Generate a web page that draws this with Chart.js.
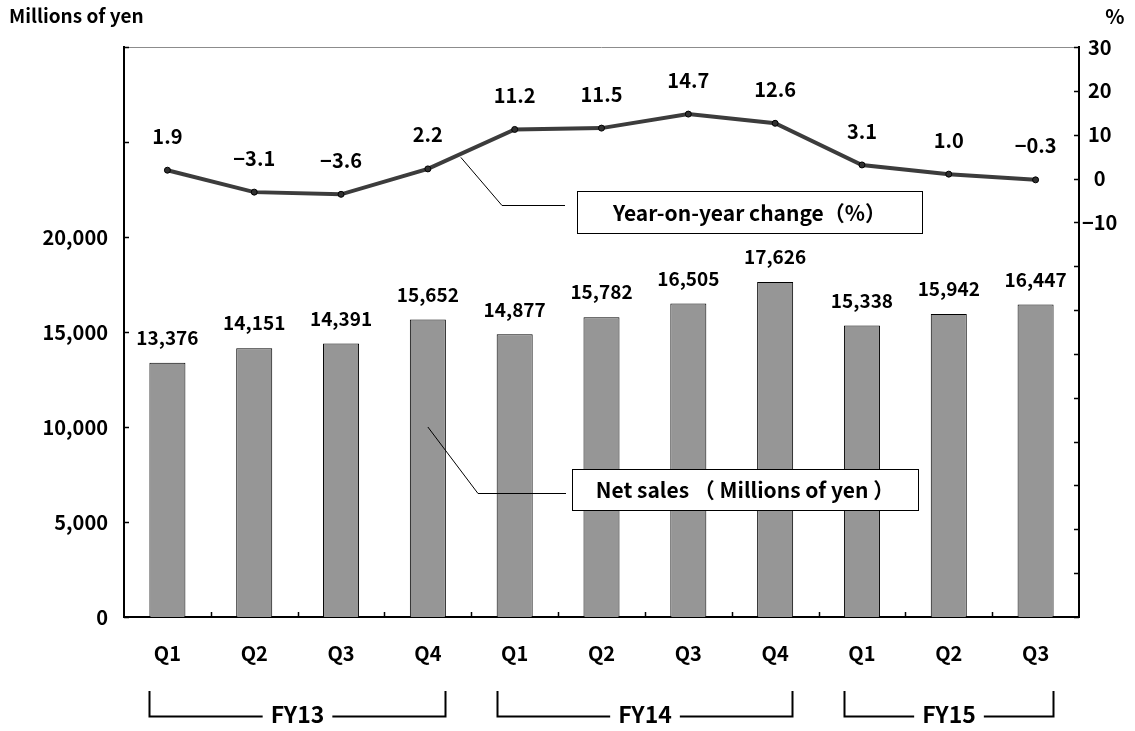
<!DOCTYPE html>
<html lang="en">
<head>
    <meta charset="UTF-8">
    <title>Net sales and year-on-year change</title>
    <style>
        html, body {
            margin: 0;
            padding: 0;
            background: #fff;
        }
        #salesChart {
            display: block;
        }
    </style>
    <script src="https://cdn.jsdelivr.net/npm/chart.js"></script>
</head>
<body>
    <canvas id="salesChart" width="1135" height="731"></canvas>

    <script>
        // Chart data
        const categories = ['Q1', 'Q2', 'Q3', 'Q4', 'Q1', 'Q2', 'Q3', 'Q4', 'Q1', 'Q2', 'Q3'];
        const netSales = [13376, 14151, 14391, 15652, 14877, 15782, 16505, 17626, 15338, 15942, 16447];
        const yoyChange = [1.9, -3.1, -3.6, 2.2, 11.2, 11.5, 14.7, 12.6, 3.1, 1.0, -0.3];
        const fiscalYears = ['FY13', 'FY14', 'FY15'];
        const quartersPerYear = [4, 4, 3];
        const salesLabelMax = 20000;   // left axis labels stop here
        const pctLabelMin = -10;       // right axis labels start here

        const FONT = '"Noto Sans CJK JP", "Liberation Sans", sans-serif';

        function fmtPct(v) {
            const s = Math.abs(v).toFixed(1);
            return v < 0 ? '\u2212' + s : s;
        }

        function fmtSales(v) {
            return v.toLocaleString('en-US');
        }

        // Everything drawn by hand: inner ticks, labels, callouts, FY brackets
        const decorations = {
            id: 'decorations',
            afterDraw(chart) {
                const ctx = chart.ctx;
                const area = chart.chartArea;
                const x = chart.scales.x;
                const y = chart.scales.y;
                const y1 = chart.scales.y1;

                ctx.save();

                // thin top frame line
                ctx.strokeStyle = '#8c8c8c';
                ctx.lineWidth = 1;
                ctx.beginPath();
                ctx.moveTo(area.left, area.top + 0.5);
                ctx.lineTo(area.right, area.top + 0.5);
                ctx.stroke();

                // inward tick marks
                ctx.strokeStyle = '#000';
                ctx.lineWidth = 1.5;
                ctx.beginPath();
                for (let v = y.min; v <= y.max; v += 5000) {
                    const py = Math.round(y.getPixelForValue(v)) + 0.5;
                    ctx.moveTo(area.left, py);
                    ctx.lineTo(area.left + 5, py);
                }
                for (let v = y1.min; v <= y1.max; v += 10) {
                    const py = Math.round(y1.getPixelForValue(v)) + 0.5;
                    ctx.moveTo(area.right, py);
                    ctx.lineTo(area.right - 5, py);
                }
                for (let i = 1; i < categories.length; i++) {
                    const px = Math.round((x.getPixelForValue(i - 1) + x.getPixelForValue(i)) / 2) + 0.5;
                    ctx.moveTo(px, area.bottom);
                    ctx.lineTo(px, area.bottom - 5);
                }
                ctx.stroke();

                // value labels
                ctx.fillStyle = '#000';
                ctx.textAlign = 'center';
                ctx.textBaseline = 'middle';
                ctx.font = 'bold 19px ' + FONT;
                const bars = chart.getDatasetMeta(0).data;
                bars.forEach((bar, i) => {
                    ctx.fillText(fmtSales(netSales[i]), bar.x, bar.y - 25);
                });
                ctx.font = 'bold 20px ' + FONT;
                const pts = chart.getDatasetMeta(1).data;
                pts.forEach((pt, i) => {
                    ctx.fillText(fmtPct(yoyChange[i]), pt.x, pt.y - 34);
                });

                // axis titles
                ctx.font = 'bold 19px ' + FONT;
                ctx.textAlign = 'left';
                ctx.fillText('Millions of yen', 9, 16);
                ctx.font = 'bold 20px ' + FONT;
                ctx.textAlign = 'center';
                ctx.fillText('%', 1115, 16);

                // callout: year-on-year change
                const t = 0.38;
                const lx = x.getPixelForValue(3) + t * (x.getPixelForValue(4) - x.getPixelForValue(3));
                const lv = yoyChange[3] + t * (yoyChange[4] - yoyChange[3]);
                drawCallout(ctx, lx, y1.getPixelForValue(lv) + 3.5, 502, 205, 565,
                    { x: 577, y: 191, w: 345, h: 42 }, 'Year-on-year change\uff08%\uff09');

                // callout: net sales
                drawCallout(ctx, x.getPixelForValue(3), y.getPixelForValue(10000), 478, 493, 566,
                    { x: 572, y: 469, w: 346, h: 41 }, 'Net sales \uff08 Millions of yen \uff09');

                // fiscal year brackets
                const halfBar = bars[0].width / 2;
                let start = 0;
                ctx.font = 'bold 23px ' + FONT;
                fiscalYears.forEach((fy, k) => {
                    const end = start + quartersPerYear[k] - 1;
                    const x0 = Math.round(x.getPixelForValue(start) - halfBar) + 0.5;
                    const x1 = Math.round(x.getPixelForValue(end) + halfBar) - 0.5;
                    const cx = (x0 + x1) / 2;
                    const tw = ctx.measureText(fy).width;
                    const top = 691, base = 716.5;
                    ctx.strokeStyle = '#000';
                    ctx.lineWidth = 2;
                    ctx.beginPath();
                    ctx.moveTo(x0, top);
                    ctx.lineTo(x0, base);
                    ctx.lineTo(cx - tw / 2 - 8, base);
                    ctx.moveTo(cx + tw / 2 + 8, base);
                    ctx.lineTo(x1, base);
                    ctx.lineTo(x1, top);
                    ctx.stroke();
                    ctx.fillStyle = '#000';
                    ctx.textAlign = 'center';
                    ctx.fillText(fy, cx, 714);
                    start = end + 1;
                });

                ctx.restore();
            }
        };

        function drawCallout(ctx, sx, sy, cx, cy, ex, box, text) {
            ctx.strokeStyle = '#000';
            ctx.lineWidth = 1;
            ctx.beginPath();
            ctx.moveTo(sx, sy);
            ctx.lineTo(cx, cy + 0.5);
            ctx.lineTo(ex, cy + 0.5);
            ctx.stroke();

            ctx.fillStyle = '#fff';
            ctx.fillRect(box.x, box.y, box.w, box.h);
            ctx.strokeRect(box.x + 0.5, box.y + 0.5, box.w, box.h);

            ctx.fillStyle = '#000';
            ctx.font = 'bold 21px ' + FONT;
            ctx.textAlign = 'center';
            ctx.textBaseline = 'middle';
            ctx.fillText(text, box.x + box.w / 2, box.y + box.h / 2 + 1);
        }

        const ctx = document.getElementById('salesChart').getContext('2d');
        const chart = new Chart(ctx, {
            type: 'bar',
            data: {
                labels: categories,
                datasets: [{
                    type: 'bar',
                    label: 'Net sales',
                    data: netSales,
                    yAxisID: 'y',
                    backgroundColor: '#969696',
                    borderColor: '#000',
                    borderWidth: 1,
                    barPercentage: 0.415,
                    categoryPercentage: 1.0
                }, {
                    type: 'line',
                    label: 'Year-on-year change (%)',
                    data: yoyChange,
                    yAxisID: 'y1',
                    borderColor: '#3c3c3c',
                    borderWidth: 4,
                    tension: 0,
                    pointRadius: 3,
                    pointBackgroundColor: '#303030',
                    pointBorderColor: '#000',
                    pointBorderWidth: 1
                }]
            },
            options: {
                responsive: false,
                animation: false,
                devicePixelRatio: 1,
                layout: {
                    padding: { top: 47, left: 0, right: 0, bottom: 0 }
                },
                plugins: {
                    legend: { display: false },
                    tooltip: { enabled: false }
                },
                scales: {
                    x: {
                        offset: true,
                        grid: { display: false, drawTicks: false },
                        border: { display: true, color: '#000', width: 2 },
                        ticks: {
                            color: '#000',
                            padding: 24,
                            font: { family: FONT, size: 20, weight: 'bold' }
                        },
                        afterFit(scale) { scale.height = 114; }
                    },
                    y: {
                        position: 'left',
                        min: 0,
                        max: 30000,
                        grid: { display: false, drawTicks: false },
                        border: { display: true, color: '#000', width: 2 },
                        ticks: {
                            stepSize: 5000,
                            color: '#000',
                            padding: 16,
                            font: { family: FONT, size: 20, weight: 'bold' },
                            callback: v => (v <= salesLabelMax ? fmtSales(v) : '')
                        },
                        afterFit(scale) { scale.width = 124; }
                    },
                    y1: {
                        position: 'right',
                        min: -100,
                        max: 30,
                        grid: { display: false, drawTicks: false },
                        border: { display: true, color: '#000', width: 2 },
                        ticks: {
                            stepSize: 10,
                            color: '#000',
                            crossAlign: 'center',
                            font: { family: FONT, size: 20, weight: 'bold' },
                            callback: v => (v >= pctLabelMin ? fmtPct(v).replace('.0', '') : '')
                        },
                        afterFit(scale) { scale.width = 56; }
                    }
                }
            },
            plugins: [decorations]
        });
    </script>
</body>
</html>
